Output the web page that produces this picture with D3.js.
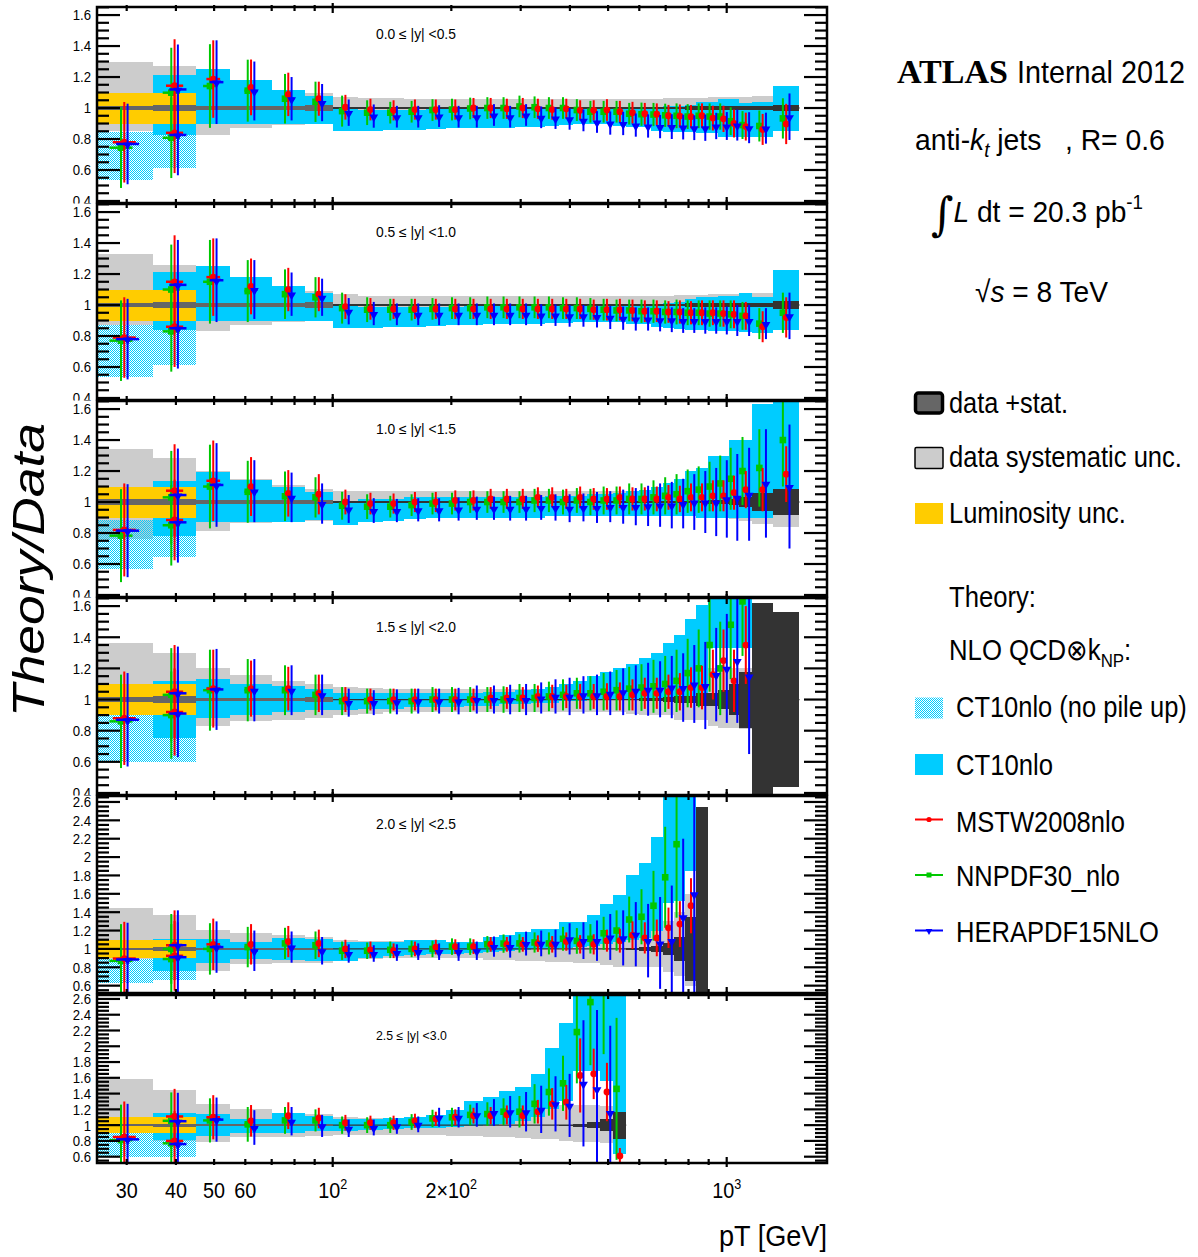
<!DOCTYPE html>
<html><head><meta charset="utf-8">
<script src="https://cdn.jsdelivr.net/npm/d3@7/dist/d3.min.js"></script>
<style>html,body{margin:0;padding:0;background:#fff;}svg{display:block;}</style>
</head><body>
<svg id="chart" width="1198" height="1257" xmlns="http://www.w3.org/2000/svg"></svg>
<script>
// ---------------- DATA ----------------
const EDGES = [25,35,45,55,70,85,100,116,134,152,172,194,216,240,264,290,318,346,376,408,442,478,516,556,598,642,688,736,786,838,894,952,1012,1076,1162,1310,1530];
const RAPIDITY_LABELS = ["0.0 \u2264 |y| <0.5","0.5 \u2264 |y| <1.0","1.0 \u2264 |y| <1.5","1.5 \u2264 |y| <2.0","2.0 \u2264 |y| <2.5","2.5 \u2264 |y| <3.0"];
const Y_TICKS_A = [0.4,0.6,0.8,1.0,1.2,1.4,1.6];
const Y_TICKS_B = [0.6,0.8,1.0,1.2,1.4,1.6,1.8,2.0,2.2,2.4,2.6];
const X_TICK_VALUES = [30,40,50,60,100,200,1000];
const X_TICK_TEXT = ["30","40","50","60","10^2","2\u00d710^2","10^3"];
const X_MINOR = [30,40,50,60,70,80,90,200,300,400,500,600,700,800,900];
const X_MAJOR = [100,1000];

const SYS_HI = [
 [1.295,1.27,1.22,1.17,1.11,1.095,1.073,1.065,1.062,1.06,1.06,1.06,1.06,1.06,1.06,1.06,1.06,1.06,1.06,1.06,1.058,1.056,1.056,1.056,1.056,1.06,1.065,1.065,1.065,1.065,1.068,1.07,1.07,1.07,1.075,1.08],
 [1.33,1.26,1.22,1.16,1.11,1.09,1.07,1.06,1.06,1.055,1.055,1.055,1.055,1.055,1.055,1.055,1.055,1.055,1.055,1.055,1.055,1.055,1.055,1.055,1.058,1.06,1.06,1.062,1.065,1.065,1.068,1.07,1.07,1.075,1.08,1.09],
 [1.342,1.284,1.2,1.15,1.11,1.084,1.073,1.07,1.07,1.07,1.07,1.07,1.07,1.07,1.07,1.07,1.07,1.07,1.07,1.07,1.07,1.07,1.07,1.07,1.07,1.07,1.075,1.08,1.08,1.085,1.09,1.1,1.1,1.12,1.14,1.16],
 [1.36,1.3,1.2,1.16,1.12,1.1,1.08,1.075,1.07,1.07,1.07,1.07,1.07,1.07,1.07,1.07,1.07,1.07,1.07,1.07,1.07,1.075,1.08,1.08,1.09,1.1,1.1,1.12,1.15,1.17,1.2,1.2,1.2,1.2,1.2,1.2],
 [1.45,1.366,1.21,1.17,1.15,1.13,1.1,1.09,1.09,1.08,1.08,1.08,1.08,1.08,1.08,1.08,1.09,1.1,1.1,1.12,1.14,1.15,1.18,1.18,1.18,1.2,1.3,1.4,1.6,1.7],
 [1.58,1.44,1.27,1.21,1.16,1.14,1.1,1.09,1.09,1.09,1.1,1.1,1.1,1.12,1.13,1.15,1.2,1.24,1.25,1.25,1.25,1.24,1.3]
];
const SYS_LO = [
 [0.85,0.847,0.826,0.873,0.89,0.9,0.93,0.94,0.94,0.94,0.94,0.94,0.94,0.94,0.94,0.94,0.94,0.94,0.94,0.94,0.94,0.94,0.94,0.94,0.94,0.94,0.94,0.935,0.935,0.93,0.93,0.93,0.93,0.93,0.925,0.92],
 [0.87,0.85,0.83,0.87,0.89,0.9,0.93,0.94,0.94,0.94,0.94,0.94,0.94,0.94,0.94,0.94,0.94,0.94,0.94,0.94,0.94,0.94,0.94,0.94,0.94,0.94,0.935,0.93,0.93,0.93,0.925,0.92,0.92,0.91,0.9,0.9],
 [0.76,0.8,0.81,0.862,0.87,0.88,0.9,0.92,0.92,0.92,0.92,0.92,0.92,0.92,0.92,0.92,0.92,0.92,0.92,0.92,0.92,0.92,0.92,0.92,0.92,0.92,0.915,0.91,0.91,0.9,0.9,0.9,0.89,0.88,0.86,0.84],
 [0.9,0.85,0.83,0.86,0.87,0.88,0.9,0.91,0.92,0.92,0.92,0.92,0.92,0.92,0.92,0.92,0.92,0.92,0.92,0.92,0.92,0.92,0.92,0.91,0.9,0.9,0.9,0.87,0.87,0.87,0.83,0.82,0.82,0.81,0.8,0.8],
 [0.89,0.76,0.76,0.84,0.85,0.85,0.88,0.89,0.9,0.9,0.9,0.9,0.9,0.88,0.88,0.87,0.87,0.86,0.86,0.85,0.85,0.82,0.8,0.8,0.8,0.8,0.75,0.7,0.6,0.5],
 [0.91,0.8,0.78,0.85,0.85,0.86,0.87,0.87,0.87,0.87,0.87,0.86,0.86,0.85,0.85,0.84,0.83,0.83,0.8,0.78,0.78,0.77,0.7]
];
const CT_HI = [
 [null,1.213,1.252,1.18,1.116,1.077,1.0,0.99,0.99,0.99,0.995,0.995,0.995,1.0,1.0,1.0,1.0,1.0,1.0,1.0,1.0,1.0,1.005,1.008,1.008,1.008,1.01,1.015,1.02,1.04,1.04,1.055,1.055,1.035,1.04,1.142],
 [null,1.21,1.25,1.18,1.12,1.08,1.0,0.99,0.99,0.99,0.99,0.99,0.995,0.995,0.995,0.995,0.995,0.995,0.995,1.0,1.0,1.0,1.0,1.0,1.0,1.005,1.01,1.02,1.04,1.05,1.05,1.06,1.06,1.08,1.05,1.226],
 [null,1.137,1.195,1.144,1.095,1.066,1.005,1.02,1.02,1.03,1.03,1.03,1.03,1.03,1.03,1.03,1.03,1.04,1.04,1.04,1.05,1.05,1.06,1.07,1.08,1.1,1.12,1.15,1.2,1.22,1.3,1.3,1.4,1.4,1.63,1.7],
 [null,1.12,1.13,1.1,1.09,1.07,1.04,1.04,1.04,1.04,1.04,1.04,1.045,1.05,1.05,1.06,1.07,1.08,1.1,1.12,1.15,1.18,1.2,1.23,1.265,1.297,1.36,1.415,1.52,1.61,1.7,1.7,1.7,1.7],
 [null,1.11,1.11,1.07,1.12,1.11,1.08,1.07,1.08,1.1,1.1,1.07,1.07,1.13,1.15,1.18,1.22,1.22,1.29,1.29,1.37,1.49,1.59,1.8,1.94,2.22,2.7,2.7,2.7],
 [null,1.16,1.14,1.08,1.16,1.12,1.08,1.08,1.09,1.1,1.13,1.19,1.31,1.36,1.43,1.48,1.65,1.98,2.3,2.7,2.7,2.7,2.7]
];
const CT_LO = [
 [null,0.826,0.9,0.897,0.897,0.897,0.854,0.85,0.855,0.86,0.865,0.868,0.87,0.872,0.874,0.876,0.88,0.882,0.89,0.895,0.9,0.9,0.885,0.88,0.878,0.85,0.847,0.847,0.847,0.837,0.837,0.815,0.815,0.81,0.81,0.854],
 [null,0.84,0.9,0.9,0.9,0.9,0.85,0.85,0.855,0.86,0.865,0.87,0.87,0.875,0.875,0.878,0.88,0.885,0.885,0.89,0.89,0.89,0.89,0.88,0.875,0.86,0.85,0.845,0.84,0.84,0.835,0.83,0.83,0.825,0.82,0.84],
 [null,0.783,0.869,0.873,0.873,0.884,0.85,0.87,0.88,0.89,0.9,0.9,0.9,0.9,0.9,0.9,0.9,0.91,0.91,0.91,0.91,0.91,0.91,0.91,0.91,0.91,0.91,0.91,0.91,0.9,0.9,0.9,0.9,0.9,0.9,0.92],
 [null,0.75,0.88,0.9,0.92,0.93,0.93,0.94,0.94,0.95,0.95,0.95,0.96,0.96,0.97,0.97,0.98,0.98,0.99,0.99,1.0,1.0,1.0,1.0,1.0,1.0,1.0,1.0,1.0,1.0,1.33,1.33,1.33,1.33],
 [null,0.76,0.85,0.89,0.88,0.87,0.87,0.9,0.92,0.93,0.94,0.95,0.96,0.97,0.98,0.99,1.0,1.0,1.01,1.02,1.03,1.05,1.08,1.1,1.12,1.2,1.5,1.52,1.85],
 [null,0.81,0.865,0.9,0.9,0.93,0.93,0.94,0.95,0.96,0.97,0.98,0.99,1.0,1.02,1.05,1.1,1.2,1.3,1.69,1.69,1.56,0.63]
];
const STAT = [
 [0.013,0.02,0.01,0.01,0.01,0.02,0.004,0.004,0.004,0.004,0.004,0.004,0.004,0.004,0.004,0.004,0.004,0.004,0.004,0.004,0.004,0.004,0.004,0.004,0.004,0.004,0.004,0.008,0.01,0.01,0.01,0.01,0.012,0.012,0.015,0.022],
 [0.013,0.02,0.01,0.01,0.01,0.02,0.004,0.004,0.004,0.004,0.004,0.004,0.004,0.004,0.004,0.004,0.004,0.004,0.004,0.004,0.004,0.004,0.004,0.004,0.004,0.004,0.004,0.008,0.01,0.01,0.01,0.01,0.012,0.012,0.015,0.025],
 [0.02,0.022,0.01,0.01,0.01,0.015,0.004,0.004,0.004,0.004,0.004,0.004,0.004,0.004,0.004,0.004,0.004,0.004,0.004,0.004,0.004,0.004,0.004,0.004,0.004,0.004,0.004,0.004,0.004,0.006,0.01,0.015,0.02,0.03,0.055,0.085],
 [0.015,0.02,0.01,0.01,0.01,0.015,0.004,0.004,0.004,0.004,0.004,0.004,0.004,0.004,0.004,0.004,0.004,0.004,0.004,0.004,0.004,0.004,0.004,0.006,0.008,0.012,0.015,0.02,0.025,0.04,0.04,0.06,0.1,0.18,0.62,0.56],
 [0.013,0.02,0.01,0.01,0.01,0.015,0.004,0.004,0.004,0.004,0.004,0.004,0.004,0.004,0.004,0.004,0.004,0.004,0.004,0.004,0.004,0.004,0.004,0.015,0.018,0.035,0.065,0.135,0.345,1.54],
 [0.013,0.02,0.01,0.01,0.01,0.015,0.004,0.004,0.004,0.004,0.004,0.004,0.004,0.004,0.004,0.004,0.004,0.004,0.008,0.02,0.04,0.08,0.17]
];
const MSTW = [
 [null,1.144,1.187,1.133,1.088,1.06,1.005,0.99,0.985,0.99,0.99,0.99,1.0,1.0,0.995,1.0,0.995,0.99,0.995,0.985,0.985,0.987,0.976,0.97,0.963,0.96,0.95,0.948,0.944,0.95,0.935,0.93,0.9,0.88,0.862,0.897],
 [null,1.15,1.18,1.12,1.1,1.07,0.99,0.975,0.975,0.975,0.975,0.975,0.975,0.975,0.975,0.975,0.975,0.975,0.975,0.975,0.97,0.97,0.97,0.965,0.96,0.96,0.955,0.955,0.95,0.95,0.95,0.945,0.94,0.93,0.86,0.92],
 [null,1.073,1.137,1.1,1.056,1.05,1.0,0.99,0.99,1.0,1.0,1.01,1.01,1.02,1.02,1.02,1.03,1.03,1.02,1.03,1.02,1.02,1.03,1.02,1.02,1.02,1.03,1.02,1.03,1.03,1.04,1.04,1.06,1.08,1.08,1.18],
 [null,1.05,1.07,1.07,1.07,1.04,1.0,1.0,1.0,1.0,1.0,1.0,1.0,1.01,1.01,1.01,1.02,1.02,1.02,1.02,1.02,1.02,1.02,1.03,1.04,1.04,1.05,1.05,1.077,1.077,1.16,1.25,1.12,1.35],
 [null,1.04,1.05,1.05,1.08,1.06,1.0,0.99,0.98,1.0,1.02,1.025,1.025,1.05,1.05,1.05,1.058,1.05,1.08,1.05,1.05,1.09,1.09,1.15,1.12,1.12,1.23,1.27,1.47],
 [null,1.11,1.1,1.055,1.12,1.09,1.03,1.03,1.03,1.055,1.08,1.1,1.12,1.12,1.13,1.12,1.17,1.27,1.29,1.63,1.65,1.42,0.61]
];
const NNPDF = [
 [null,1.099,1.142,1.112,1.06,1.04,0.98,0.97,0.97,0.976,0.987,0.99,0.997,1.0,1.0,1.01,1.005,1.0,1.0,0.987,0.976,0.976,0.976,0.963,0.96,0.958,0.953,0.95,0.945,0.95,0.945,0.945,0.915,0.89,0.884,0.933],
 [null,1.1,1.15,1.09,1.07,1.05,0.98,0.97,0.97,0.97,0.975,0.98,0.98,0.985,0.985,0.985,0.985,0.985,0.98,0.98,0.975,0.97,0.965,0.965,0.96,0.96,0.955,0.955,0.95,0.95,0.945,0.945,0.94,0.93,0.88,0.95],
 [null,1.03,1.1,1.066,1.037,1.03,0.976,0.97,0.97,0.98,0.99,0.99,1.0,1.0,1.0,1.0,1.01,1.01,1.0,1.01,1.0,1.01,1.01,1.02,1.02,1.03,1.04,1.05,1.07,1.08,1.1,1.12,1.15,1.2,1.22,1.4],
 [null,1.03,1.06,1.06,1.06,1.03,0.99,0.99,0.99,0.99,1.0,1.0,1.0,1.0,1.0,1.01,1.01,1.02,1.03,1.04,1.04,1.05,1.06,1.07,1.077,1.085,1.1,1.12,1.17,1.2,1.35,1.2,1.48,1.63],
 [null,1.0,1.0,1.02,1.06,1.04,0.98,0.98,0.99,1.0,1.0,1.025,1.025,1.05,1.058,1.06,1.07,1.06,1.11,1.087,1.11,1.17,1.2,1.32,1.35,1.47,1.78,2.14,null],
 [null,1.055,1.06,1.01,1.06,1.06,1.0,1.0,1.0,1.04,1.085,1.1,1.13,1.14,1.17,1.17,1.27,1.42,1.53,2.18,2.56,2.9,1.46]
];
const HERA = [
 [null,1.12,1.167,1.11,1.06,1.035,0.97,0.948,0.944,0.944,0.948,0.944,0.944,0.955,0.944,0.955,0.94,0.935,0.93,0.92,0.91,0.903,0.9,0.89,0.884,0.88,0.88,0.877,0.873,0.873,0.884,0.884,0.89,0.873,0.87,0.944],
 [null,1.13,1.16,1.1,1.07,1.05,0.96,0.945,0.94,0.94,0.94,0.94,0.94,0.94,0.94,0.94,0.935,0.935,0.93,0.93,0.925,0.92,0.915,0.91,0.91,0.905,0.905,0.9,0.9,0.9,0.9,0.9,0.9,0.9,0.88,0.93],
 [null,1.045,1.11,1.07,1.03,0.99,0.955,0.945,0.945,0.95,0.95,0.955,0.96,0.96,0.96,0.96,0.965,0.965,0.96,0.965,0.965,0.97,0.97,0.97,0.975,0.98,0.98,0.99,1.0,1.0,1.0,1.02,1.03,1.05,1.12,1.1],
 [null,1.04,1.065,1.06,1.06,1.03,0.98,0.98,0.985,0.99,0.99,0.99,1.0,1.0,1.0,1.0,1.01,1.02,1.02,1.03,1.03,1.04,1.05,1.06,1.066,1.066,1.08,1.077,1.1,1.09,1.16,1.2,1.25,1.15],
 [null,1.04,1.02,0.98,1.02,0.98,0.95,0.95,0.96,0.97,0.97,0.97,0.98,1.025,1.025,1.058,1.06,1.06,1.11,1.09,1.09,1.13,1.12,1.16,1.09,1.065,1.09,1.35,1.6],
 [null,1.05,1.07,0.97,1.05,0.99,0.96,0.97,0.99,1.01,1.1,1.1,1.13,1.16,1.17,1.17,1.2,1.27,1.25,1.53,1.46,1.16,null]
];
const ERR_M = [
 [null,0.3,0.25,0.18,0.14,0.11,0.08,0.07,0.065,0.065,0.065,0.065,0.065,0.065,0.065,0.065,0.065,0.065,0.065,0.065,0.065,0.07,0.07,0.07,0.07,0.07,0.07,0.075,0.075,0.08,0.08,0.085,0.09,0.09,0.1,0.13],
 [null,0.3,0.25,0.18,0.14,0.11,0.08,0.07,0.065,0.065,0.065,0.065,0.065,0.065,0.065,0.065,0.065,0.065,0.065,0.065,0.065,0.07,0.07,0.07,0.07,0.07,0.07,0.075,0.075,0.08,0.08,0.085,0.09,0.09,0.1,0.13],
 [null,0.3,0.26,0.19,0.15,0.13,0.08,0.07,0.065,0.065,0.065,0.065,0.065,0.065,0.065,0.065,0.065,0.065,0.065,0.07,0.07,0.07,0.07,0.075,0.075,0.08,0.08,0.085,0.09,0.09,0.1,0.1,0.11,0.12,0.14,0.18],
 [null,0.3,0.25,0.18,0.14,0.12,0.08,0.07,0.07,0.07,0.07,0.07,0.07,0.07,0.07,0.07,0.07,0.075,0.075,0.08,0.08,0.085,0.09,0.1,0.1,0.1,0.11,0.12,0.13,0.14,0.16,0.2,0.2,0.25],
 [null,0.38,0.28,0.22,0.17,0.15,0.1,0.09,0.08,0.08,0.08,0.08,0.08,0.08,0.08,0.08,0.09,0.09,0.1,0.1,0.11,0.12,0.13,0.15,0.17,0.2,0.22,0.25,0.3],
 [null,0.35,0.28,0.2,0.17,0.13,0.1,0.09,0.09,0.09,0.09,0.1,0.1,0.11,0.12,0.13,0.15,0.2,0.22,0.47,0.32,0.37,0.1]
];
const ERR_N = [
 [null,0.29,0.27,0.2,0.16,0.13,0.1,0.08,0.07,0.07,0.07,0.07,0.07,0.07,0.07,0.07,0.07,0.07,0.07,0.07,0.07,0.07,0.07,0.07,0.075,0.075,0.075,0.08,0.08,0.08,0.085,0.085,0.09,0.09,0.1,0.13],
 [null,0.29,0.27,0.2,0.16,0.13,0.1,0.08,0.07,0.07,0.07,0.07,0.07,0.07,0.07,0.07,0.07,0.07,0.07,0.07,0.07,0.07,0.07,0.07,0.075,0.075,0.075,0.08,0.08,0.08,0.085,0.085,0.09,0.09,0.1,0.13],
 [null,0.3,0.27,0.2,0.16,0.13,0.09,0.08,0.07,0.07,0.07,0.07,0.07,0.07,0.07,0.07,0.075,0.075,0.08,0.08,0.085,0.09,0.09,0.1,0.1,0.11,0.12,0.13,0.14,0.15,0.16,0.18,0.2,0.22,0.25,0.3],
 [null,0.3,0.26,0.2,0.16,0.13,0.09,0.08,0.08,0.08,0.08,0.08,0.08,0.08,0.085,0.09,0.09,0.095,0.1,0.1,0.11,0.12,0.13,0.14,0.15,0.17,0.18,0.2,0.22,0.25,0.3,0.3,0.35,0.35],
 [null,0.38,0.28,0.22,0.17,0.15,0.1,0.09,0.09,0.09,0.09,0.09,0.09,0.09,0.1,0.1,0.11,0.12,0.13,0.14,0.16,0.18,0.22,0.25,0.3,0.38,0.55,0.8,null],
 [null,0.36,0.28,0.22,0.17,0.14,0.11,0.1,0.1,0.1,0.11,0.12,0.13,0.15,0.17,0.2,0.25,0.3,0.35,0.65,0.8,1.0,0.9]
];
const ERR_H = [
 [null,0.29,0.27,0.19,0.14,0.12,0.085,0.075,0.07,0.07,0.07,0.07,0.07,0.07,0.07,0.07,0.07,0.07,0.07,0.07,0.07,0.075,0.075,0.075,0.075,0.075,0.08,0.08,0.08,0.085,0.085,0.09,0.1,0.1,0.1,0.15],
 [null,0.29,0.27,0.19,0.14,0.12,0.085,0.075,0.07,0.07,0.07,0.07,0.07,0.07,0.07,0.07,0.07,0.07,0.07,0.07,0.07,0.075,0.075,0.075,0.075,0.075,0.08,0.08,0.08,0.085,0.085,0.09,0.1,0.1,0.1,0.15],
 [null,0.3,0.27,0.2,0.16,0.13,0.09,0.08,0.075,0.075,0.075,0.075,0.075,0.075,0.08,0.08,0.08,0.085,0.09,0.09,0.1,0.1,0.11,0.12,0.13,0.14,0.15,0.16,0.18,0.2,0.22,0.25,0.28,0.3,0.35,0.4],
 [null,0.3,0.26,0.2,0.16,0.13,0.09,0.08,0.08,0.08,0.08,0.085,0.09,0.09,0.095,0.1,0.1,0.11,0.12,0.12,0.13,0.14,0.15,0.16,0.17,0.18,0.2,0.22,0.25,0.28,0.3,0.35,0.4,0.5],
 [null,0.38,0.28,0.22,0.17,0.15,0.1,0.09,0.09,0.09,0.09,0.1,0.1,0.11,0.12,0.13,0.14,0.15,0.17,0.2,0.22,0.25,0.3,0.35,0.4,0.5,0.6,0.85,1.1],
 [null,0.36,0.28,0.22,0.18,0.14,0.11,0.1,0.1,0.1,0.12,0.13,0.15,0.17,0.2,0.25,0.3,0.35,0.4,0.8,1.0,1.1,null]
];
const LOW_M = [[0.779,0.84],[0.79,0.86],[0.82,0.884],[0.88,0.92],[0.895,0.925],[0.85,0.8]];
const LOW_N = [[0.744,0.808],[0.77,0.83],[0.783,0.85],[0.86,0.9],[0.87,0.89],[0.81,0.77]];
const LOW_H = [[0.768,0.826],[0.78,0.85],[0.815,0.869],[0.87,0.91],[0.885,0.91],[0.82,0.76]];
const LOW_ERR = [[0.26,0.26],[0.26,0.26],[0.3,0.26],[0.3,0.28],[0.4,0.38],[0.45,0.38]];
const HATCH_LO = [[0.535,0.611],[0.535,0.61],[0.568,0.643],[0.6,0.6],[0.63,0.66],[0.59,0.6]];
const HATCH_HI = [[0.847,0.826],[0.87,0.84],[0.884,0.783],[0.9,0.75],[0.89,0.76],[0.91,0.81]];
const LUMI_LO = [0.9,0.9];
const LUMI_HI = [1.1,1.1];

// ---------------- LAYOUT / STYLE ----------------
const NARROW = "'Liberation Sans Narrow','Arial Narrow','Liberation Sans',Arial,sans-serif";
const COL = {sys:"#cccccc", ct10:"#00ccff", lumi:"#ffcc00", statLow:"#666666", statHigh:"#333333",
             mstw:"#ff0000", nnpdf:"#00c800", hera:"#0000ff"};
const X0 = 97, X1 = 827;
const PANELS = [
 {top:7,   bottom:203,  dom:[0.387,1.652], labelY:39.5, labelSize:14,   yt:Y_TICKS_A},
 {top:204, bottom:400,  dom:[0.387,1.652], labelY:237.5,labelSize:14,   yt:Y_TICKS_A},
 {top:401, bottom:597,  dom:[0.387,1.652], labelY:434.5,labelSize:14,   yt:Y_TICKS_A},
 {top:598, bottom:795,  dom:[0.387,1.652], labelY:632,  labelSize:14,   yt:Y_TICKS_A},
 {top:796, bottom:993,  dom:[0.52,2.665],  labelY:829,  labelSize:14,   yt:Y_TICKS_B},
 {top:995, bottom:1163, dom:[0.52,2.65],   labelY:1040, labelSize:12.5, yt:Y_TICKS_B}
];

const svg = d3.select("#chart");
const defs = svg.append("defs");
const pat = defs.append("pattern").attr("id","hatch").attr("patternUnits","userSpaceOnUse")
  .attr("width",2).attr("height",2);
pat.append("rect").attr("x",0).attr("y",0).attr("width",1).attr("height",1).attr("fill",COL.ct10);
pat.append("rect").attr("x",1).attr("y",1).attr("width",1).attr("height",1).attr("fill",COL.ct10);

const x = d3.scaleLog().domain([30,1000]).range([126.7,726.7]);
const fmt = v => String(+v.toFixed(1));

// squeeze a text horizontally so it spans a given width (emulates the condensed font)
function fit(sel, x0, width){
  const w = sel.node().getComputedTextLength();
  if(w>0){ const k = width/w; sel.attr("transform",`translate(${x0},0) scale(${k},1) translate(${-x0},0)`); }
  return sel;
}
function addSupText(sel, str, supSize){
  const parts = str.split("^");
  sel.append("tspan").text(parts[0]);
  if(parts.length>1) sel.append("tspan").attr("dy",-9).attr("font-size",supSize).text(parts[1]);
}

PANELS.forEach((P,p)=>{
  const g = svg.append("g");
  g.append("rect").attr("x",0).attr("y",P.top-0.5).attr("width",870).attr("height",P.bottom-P.top+1).attr("fill","#fff");
  const y = d3.scaleLinear().domain(P.dom).range([P.bottom,P.top]);
  defs.append("clipPath").attr("id","clip"+p).append("rect")
    .attr("x",X0).attr("y",P.top).attr("width",X1-X0).attr("height",P.bottom-P.top);
  const c = g.append("g").attr("clip-path",`url(#clip${p})`);
  const nb = SYS_HI[p].length;
  const bins = d3.range(nb).map(i=>({i, lo:EDGES[i], hi:EDGES[i+1]}));
  const band = (arrHi, arrLo, fill, data) => {
    c.append("g").attr("shape-rendering","crispEdges").selectAll("rect")
      .data(data.filter(d=>arrHi[d.i]!=null && arrLo[d.i]!=null)).enter().append("rect")
      .attr("x",d=>x(d.lo)).attr("width",d=>x(d.hi)-x(d.lo))
      .attr("y",d=>y(arrHi[d.i])).attr("height",d=>Math.max(0,y(arrLo[d.i])-y(arrHi[d.i])))
      .attr("fill",fill);
  };
  band(SYS_HI[p], SYS_LO[p], COL.sys, bins);
  band(CT_HI[p], CT_LO[p], COL.ct10, bins.filter(d=>d.i<CT_HI[p].length));
  band(HATCH_HI[p], HATCH_LO[p], "url(#hatch)", bins.slice(0,2));
  band(LUMI_HI, LUMI_LO, COL.lumi, bins.slice(0,2));
  c.append("line").attr("x1",x(EDGES[0])).attr("x2",x(EDGES[nb])).attr("y1",y(1)).attr("y2",y(1))
    .attr("stroke","#333").attr("stroke-width",1.3);
  c.append("g").attr("shape-rendering","crispEdges").selectAll("rect").data(bins).enter().append("rect")
    .attr("x",d=>x(d.lo)).attr("width",d=>x(d.hi)-x(d.lo))
    .attr("y",d=>y(1+STAT[p][d.i])).attr("height",d=>y(1-STAT[p][d.i])-y(1+STAT[p][d.i]))
    .attr("fill",d=>d.lo<100?COL.statLow:COL.statHigh);

  const series = [
    {vals:NNPDF[p], errs:ERR_N[p], low:LOW_N[p], col:COL.nnpdf, off:-3.3, sym:"square"},
    {vals:MSTW[p],  errs:ERR_M[p], low:LOW_M[p], col:COL.mstw,  off:0,    sym:"circle"},
    {vals:HERA[p],  errs:ERR_H[p], low:LOW_H[p], col:COL.hera,  off:3.3,  sym:"tri"}
  ];
  series.forEach(S=>{
    const pts = [];
    bins.forEach(d=>{
      const xc = x(Math.sqrt(d.lo*d.hi)) + S.off;
      const w = x(d.hi)-x(d.lo);
      const hw = d.lo<55 ? 0.2*w : (d.lo<100 ? 0.08*w : 0);
      if(d.i<2) pts.push({xc, hw, v:S.low[d.i], e:LOW_ERR[p][d.i]});
      if(d.i<S.vals.length && S.vals[d.i]!=null) pts.push({xc, hw, v:S.vals[d.i], e:S.errs[d.i]});
    });
    const sg = c.append("g");
    sg.selectAll("line.v").data(pts).enter().append("line")
      .attr("x1",d=>d.xc).attr("x2",d=>d.xc).attr("y1",d=>y(d.v+d.e)).attr("y2",d=>y(d.v-d.e))
      .attr("stroke",S.col).attr("stroke-width",2);
    sg.selectAll("line.h").data(pts.filter(d=>d.hw>0)).enter().append("line")
      .attr("x1",d=>d.xc-d.hw).attr("x2",d=>d.xc+d.hw).attr("y1",d=>y(d.v)).attr("y2",d=>y(d.v))
      .attr("stroke",S.col).attr("stroke-width",2.5);
    if(S.sym==="circle"){
      sg.selectAll("circle").data(pts).enter().append("circle")
        .attr("cx",d=>d.xc).attr("cy",d=>y(d.v)).attr("r",3.4).attr("fill",S.col);
    } else if(S.sym==="square"){
      sg.selectAll("rect").data(pts).enter().append("rect")
        .attr("x",d=>d.xc-3.3).attr("y",d=>y(d.v)-3.3).attr("width",6.6).attr("height",6.6).attr("fill",S.col);
    } else {
      const tri = d3.symbol().type(d3.symbolTriangle).size(34);
      sg.selectAll("path").data(pts).enter().append("path")
        .attr("d",tri).attr("transform",d=>`translate(${d.xc},${y(d.v)+1}) rotate(180)`).attr("fill",S.col);
    }
  });

  g.append("rect").attr("x",X0).attr("y",P.top).attr("width",X1-X0).attr("height",P.bottom-P.top)
    .attr("fill","none").attr("stroke","#000").attr("stroke-width",2.5);
  const majors = P.yt;
  const minors = d3.range(Math.ceil(P.dom[0]/0.05), Math.floor(P.dom[1]/0.05)+1).map(k=>k*0.05)
    .filter(v=>!majors.some(m=>Math.abs(m-v)<1e-6));
  const tk = g.append("g").attr("stroke","#000").attr("stroke-width",2.2);
  majors.forEach(v=>{
    tk.append("line").attr("x1",X0).attr("x2",X0+23).attr("y1",y(v)).attr("y2",y(v));
    tk.append("line").attr("x1",X1-23).attr("x2",X1).attr("y1",y(v)).attr("y2",y(v));
  });
  minors.forEach(v=>{
    tk.append("line").attr("x1",X0).attr("x2",X0+12).attr("y1",y(v)).attr("y2",y(v));
    tk.append("line").attr("x1",X1-12).attr("x2",X1).attr("y1",y(v)).attr("y2",y(v));
  });
  X_MINOR.forEach(v=>{
    tk.append("line").attr("x1",x(v)).attr("x2",x(v)).attr("y1",P.top-2).attr("y2",P.top+4);
    tk.append("line").attr("x1",x(v)).attr("x2",x(v)).attr("y1",P.bottom-4).attr("y2",P.bottom+2);
  });
  X_MAJOR.forEach(v=>{
    tk.append("line").attr("x1",x(v)).attr("x2",x(v)).attr("y1",P.top-4).attr("y2",P.top+6);
    tk.append("line").attr("x1",x(v)).attr("x2",x(v)).attr("y1",P.bottom-6).attr("y2",P.bottom+4);
  });
  g.append("g").selectAll("text").data(majors).enter().append("text")
    .attr("x",91).attr("y",v=>y(v)).attr("dy","0.36em").attr("text-anchor","end")
    .attr("font-family",NARROW).attr("font-size",15).attr("fill","#000").text(fmt)
    .each(function(){ const s=d3.select(this); fit(s, 91, s.node().getComputedTextLength()*0.88); });
  const lab = g.append("text").attr("x",376).attr("y",P.labelY)
    .attr("font-family",NARROW).attr("font-size",P.labelSize).text(RAPIDITY_LABELS[p]);
  fit(lab, 376, p===5 ? 71 : 80);
});

X_TICK_VALUES.forEach((v,i)=>{
  const t = svg.append("text").attr("x",x(v)).attr("y",1198).attr("text-anchor","middle")
    .attr("font-family",NARROW).attr("font-size",22);
  addSupText(t, X_TICK_TEXT[i], 14);
  fit(t, x(v), t.node().getComputedTextLength()*0.9);
});
fit(svg.append("text").attr("x",827).attr("y",1246).attr("text-anchor","end")
  .attr("font-family",NARROW).attr("font-size",29).text("pT [GeV]"), 827, 108);
svg.append("text").attr("transform","translate(44,570) rotate(-90)").attr("text-anchor","middle")
  .attr("font-family","'Liberation Sans',Arial,sans-serif").attr("font-style","italic")
  .attr("font-size",44).attr("textLength",294).attr("lengthAdjust","spacingAndGlyphs").text("Theory/Data");

// ---------------- LEGEND / LABELS ----------------
const L = svg.append("g").attr("font-family",NARROW).attr("fill","#000");
fit(L.append("text").attr("x",897).attr("y",83).attr("font-family","'Liberation Serif','Times New Roman',serif")
  .attr("font-weight","bold").attr("font-size",33).text("ATLAS"), 897, 111);
fit(L.append("text").attr("x",1017).attr("y",83).attr("font-size",31).text("Internal 2012"), 1017, 168);
const t1 = L.append("text").attr("x",915).attr("y",150).attr("font-size",30);
t1.append("tspan").text("anti-");
t1.append("tspan").attr("font-style","italic").text("k");
t1.append("tspan").attr("font-style","italic").attr("font-size",20).attr("dy",7).text("t");
t1.append("tspan").attr("dy",-7).text("\u00a0jets\u00a0\u00a0\u00a0, R= 0.6");
fit(t1, 915, 250);
const t2 = L.append("text").attr("x",931).attr("y",222).attr("font-size",30);
t2.append("tspan").attr("font-size",46).attr("font-family","'DejaVu Serif',serif").attr("dy",8).text("\u222B");
t2.append("tspan").attr("dy",-8).attr("font-style","italic").text("L");
t2.append("tspan").text(" dt = 20.3 pb");
t2.append("tspan").attr("font-size",20).attr("dy",-13).text("-1");
fit(t2, 931, 212);
const t3 = L.append("text").attr("x",975).attr("y",302).attr("font-size",30);
t3.append("tspan").text("\u221A");
t3.append("tspan").attr("font-style","italic").text("s");
t3.append("tspan").text(" = 8 TeV");
fit(t3, 975, 133);

L.append("rect").attr("x",915.5).attr("y",393).attr("width",27).attr("height",20).attr("rx",3)
  .attr("fill","#666").attr("stroke","#000").attr("stroke-width",3.5);
fit(L.append("text").attr("x",949).attr("y",413).attr("font-size",29).text("data +stat."), 949, 119);
L.append("rect").attr("x",915).attr("y",447.5).attr("width",28).attr("height",21).attr("rx",1.5)
  .attr("fill","#ccc").attr("stroke","#000").attr("stroke-width",1.5);
fit(L.append("text").attr("x",949).attr("y",467).attr("font-size",29).text("data systematic unc."), 949, 233);
L.append("rect").attr("x",915).attr("y",503).attr("width",28).attr("height",21).attr("fill",COL.lumi);
fit(L.append("text").attr("x",949).attr("y",523).attr("font-size",29).text("Luminosity unc."), 949, 177);
fit(L.append("text").attr("x",949).attr("y",607).attr("font-size",29).text("Theory:"), 949, 87);
const t4 = L.append("text").attr("x",949).attr("y",660).attr("font-size",29);
t4.append("tspan").text("NLO QCD\u2297k");
t4.append("tspan").attr("font-size",19).attr("dy",7).text("NP");
t4.append("tspan").attr("dy",-7).text(":");
fit(t4, 949, 182);
L.append("rect").attr("x",915).attr("y",697.5).attr("width",28).attr("height",21).attr("fill","url(#hatch)");
fit(L.append("text").attr("x",956).attr("y",717).attr("font-size",29.5).text("CT10nlo (no pile up)"), 956, 231);
L.append("rect").attr("x",915).attr("y",754).attr("width",28).attr("height",21).attr("fill",COL.ct10);
fit(L.append("text").attr("x",956).attr("y",775).attr("font-size",29.5).text("CT10nlo"), 956, 97);
const leg = [
  {t:"MSTW2008nlo", c:COL.mstw, y:819.5, ty:832, s:"circle", w:169},
  {t:"NNPDF30_nlo", c:COL.nnpdf, y:875, ty:886, s:"square", w:164},
  {t:"HERAPDF15NLO", c:COL.hera, y:930.5, ty:942, s:"tri", w:203}
];
leg.forEach(e=>{
  L.append("line").attr("x1",915).attr("x2",943).attr("y1",e.y).attr("y2",e.y).attr("stroke",e.c).attr("stroke-width",2);
  if(e.s==="circle") L.append("circle").attr("cx",929).attr("cy",e.y).attr("r",2.6).attr("fill",e.c);
  else if(e.s==="square") L.append("rect").attr("x",926.5).attr("y",e.y-2.5).attr("width",5).attr("height",5).attr("fill",e.c);
  else L.append("path").attr("d",d3.symbol().type(d3.symbolTriangle).size(20)).attr("transform",`translate(929,${e.y+0.5}) rotate(180)`).attr("fill",e.c);
  fit(L.append("text").attr("x",956).attr("y",e.ty).attr("font-size",29.5).text(e.t), 956, e.w);
});
</script>
</body></html>
